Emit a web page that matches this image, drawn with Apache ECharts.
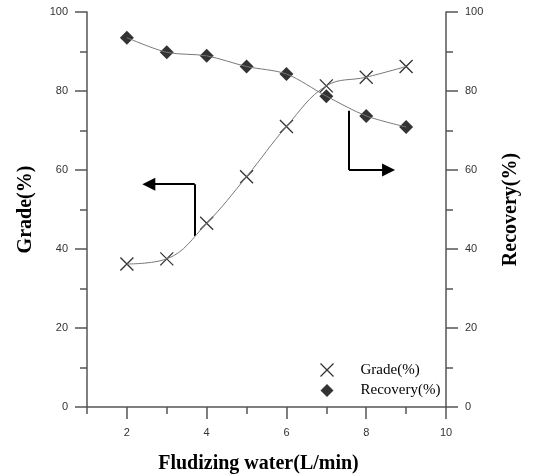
<!DOCTYPE html>
<html>
<head>
<meta charset="utf-8">
<script src="https://cdn.jsdelivr.net/npm/echarts@6/dist/echarts.min.js"></script>
<style>
  html, body { margin: 0; padding: 0; background: #fff; }
  #main { width: 534px; height: 475px; }
</style>
</head>
<body>
<div id="main"></div>
<script>
// flow rate of fluidizing water (L/min)
var water = [2, 3, 4, 5, 6, 7, 8, 9];
// grade and recovery (%)
var grade = [36.2, 37.5, 46.5, 58.3, 71.0, 81.3, 83.5, 86.2];
var recovery = [93.5, 89.8, 88.9, 86.2, 84.3, 78.7, 73.7, 70.9];
var xMajor = [2, 4, 6, 8, 10];
var xMinor = [1, 3, 5, 7, 9];

function pairs(xs, ys) {
  return xs.map(function (x, i) { return [x, ys[i]]; });
}

var chart = echarts.init(document.getElementById('main'));

var crossPath = 'path://M0,0L10,10M10,0L0,10';
var axisColor = '#555';
var labelStyle = { color: '#333', fontSize: 11, fontFamily: 'Liberation Sans' };
var titleStyle = { color: '#000', fontSize: 20, fontWeight: 'bold', fontFamily: 'Liberation Serif' };

var option = {
  animation: false,
  grid: { left: 87, right: 88, top: 12, bottom: 68, outerBoundsMode: 'none' },
  legend: {
    orient: 'vertical',
    left: 313,
    top: 356,
    itemWidth: 13,
    itemHeight: 13,
    itemGap: 4,
    textStyle: { color: '#000', fontSize: 15, fontFamily: 'Liberation Serif', padding: [0, 0, 0, 22] },
    data: [
      { name: 'Grade(%)', icon: crossPath, itemStyle: { color: 'none', borderColor: '#000', borderWidth: 1.3 } },
      { name: 'Recovery(%)', icon: 'diamond', itemStyle: { color: '#000' } }
    ]
  },
  xAxis: [{
    type: 'value',
    min: 1,
    max: 10,
    name: 'Fludizing water(L/min)',
    nameLocation: 'middle',
    nameGap: 47,
    nameTextStyle: Object.assign({ padding: [0, 16, 0, 0] }, titleStyle),
    splitLine: { show: false },
    axisLine: { onZero: false, lineStyle: { color: axisColor, width: 1.5 } },
    axisTick: { customValues: xMajor, length: 12, lineStyle: { color: axisColor, width: 1.5 } },
    axisLabel: Object.assign({ customValues: xMajor, margin: 20 }, labelStyle)
  }, {
    type: 'value',
    position: 'bottom',
    min: 1,
    max: 10,
    splitLine: { show: false },
    axisLine: { show: false },
    axisTick: { customValues: xMinor, length: 7, lineStyle: { color: axisColor, width: 1.5 } },
    axisLabel: { show: false }
  }],
  yAxis: [{
    type: 'value',
    min: 0,
    max: 100,
    interval: 20,
    name: 'Grade(%)',
    nameLocation: 'middle',
    nameRotate: 90,
    nameGap: 51,
    nameTextStyle: titleStyle,
    splitLine: { show: false },
    axisLine: { show: true, lineStyle: { color: axisColor, width: 1.5 } },
    axisTick: { length: 12, lineStyle: { color: axisColor, width: 1.5 } },
    minorTick: { show: true, splitNumber: 2, length: 7, lineStyle: { color: axisColor, width: 1.5 } },
    axisLabel: Object.assign({ margin: 19 }, labelStyle)
  }, {
    type: 'value',
    position: 'right',
    min: 0,
    max: 100,
    interval: 20,
    name: 'Recovery(%)',
    nameLocation: 'middle',
    nameRotate: 90,
    nameGap: 55,
    nameTextStyle: titleStyle,
    splitLine: { show: false },
    axisLine: { show: true, lineStyle: { color: axisColor, width: 1.5 } },
    axisTick: { length: 12, lineStyle: { color: axisColor, width: 1.5 } },
    minorTick: { show: true, splitNumber: 2, length: 7, lineStyle: { color: axisColor, width: 1.5 } },
    axisLabel: Object.assign({ margin: 19 }, labelStyle)
  }],
  series: [{
    name: 'grade-curve',
    type: 'line',
    yAxisIndex: 0,
    smooth: 0.4,
    showSymbol: false,
    lineStyle: { color: '#777', width: 1 },
    data: pairs(water, grade)
  }, {
    name: 'recovery-curve',
    type: 'line',
    yAxisIndex: 1,
    smooth: 0.3,
    showSymbol: false,
    lineStyle: { color: '#777', width: 1 },
    data: pairs(water, recovery)
  }, {
    name: 'Grade(%)',
    type: 'scatter',
    yAxisIndex: 0,
    symbol: crossPath,
    symbolSize: 13,
    itemStyle: { color: 'none', borderColor: '#000', borderWidth: 1.3 },
    data: pairs(water, grade)
  }, {
    name: 'Recovery(%)',
    type: 'scatter',
    yAxisIndex: 1,
    symbol: 'diamond',
    symbolSize: 14,
    itemStyle: { color: '#000' },
    data: pairs(water, recovery)
  }, {
    // arrow stems
    type: 'lines',
    coordinateSystem: 'cartesian2d',
    lineStyle: { color: '#000', width: 2, opacity: 1 },
    data: [
      { coords: [[3.7, 43.3], [3.7, 56.4]] },
      { coords: [[7.57, 75.0], [7.57, 60.0]] }
    ]
  }, {
    // arrow heads
    type: 'lines',
    coordinateSystem: 'cartesian2d',
    symbol: ['none', 'triangle'],
    symbolSize: 13,
    lineStyle: { color: '#000', width: 2, opacity: 1 },
    data: [
      { coords: [[3.7, 56.4], [2.55, 56.4]] },
      { coords: [[7.57, 60.0], [8.56, 60.0]] }
    ]
  }]
};

chart.setOption(option);
</script>
</body>
</html>
